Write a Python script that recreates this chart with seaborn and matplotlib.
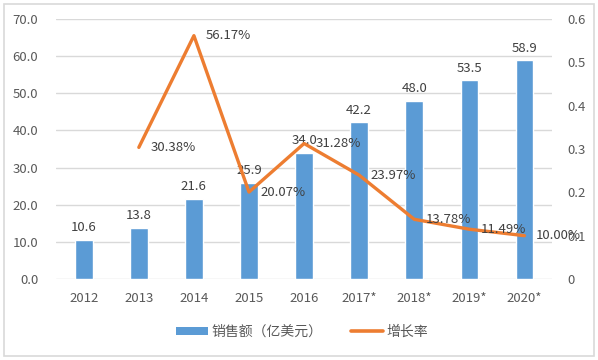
import numpy as np
import pandas as pd
import matplotlib
matplotlib.use("Agg")
import matplotlib.pyplot as plt
import seaborn as sns
from matplotlib.patches import Patch, Rectangle
from matplotlib.lines import Line2D

years = ["2012", "2013", "2014", "2015", "2016", "2017*", "2018*", "2019*", "2020*"]
sales = [10.6, 13.8, 21.6, 25.9, 34.0, 42.2, 48.0, 53.5, 58.9]
growth = [np.nan, 0.3038, 0.5617, 0.2007, 0.3128, 0.2397, 0.1378, 0.1149, 0.1000]
left_ticks = [0, 10, 20, 30, 40, 50, 60, 70]
right_ticks = [0, 0.1, 0.2, 0.3, 0.4, 0.5, 0.6]
legend_labels = ["销售额（亿美元）", "增长率"]

sns.set_theme(style="white")
plt.rcParams['font.family'] = ['Noto Sans CJK SC', 'DejaVu Sans']

BLUE = "#5B9BD5"
ORANGE = "#ED7D31"
TXT = "#595959"
GRID = "#D9D9D9"

df = pd.DataFrame({"year": years, "sales": sales, "growth": growth})
df["pos"] = np.arange(len(df))

fig = plt.figure(figsize=(5.98, 3.6), dpi=100)
ax = fig.add_axes([0.094, 0.225, 0.829, 0.722])
sns.barplot(data=df, x="year", y="sales", color=BLUE, width=0.32, ax=ax,
            saturation=1, zorder=2)
ax.set_xlim(-0.5, len(years) - 0.5)
ax.set_ylim(0, 70)
ax.set_yticks(left_ticks)
ax.set_yticklabels([f"{v:.1f}" for v in left_ticks])
ax.grid(axis="y", color=GRID, linewidth=1, zorder=0)
ax.set_axisbelow(True)
for s in ax.spines.values():
    s.set_visible(False)
ax.set_xlabel("")
ax.set_ylabel("")
ax.tick_params(axis="x", length=0, pad=9, labelsize=9.5, colors=TXT)
ax.tick_params(axis="y", length=0, pad=13, labelsize=9.5, colors=TXT)

for i, v in enumerate(sales):
    ax.text(i, v + 1.5, f"{v:.1f}", ha="center", va="bottom", fontsize=9.5, color="#404040")

ax2 = ax.twinx()
sns.lineplot(data=df, x="pos", y="growth", color=ORANGE, linewidth=2.4, ax=ax2, zorder=3)
ax2.set_ylim(0, 0.6)
ax2.set_yticks(right_ticks)
ax2.set_yticklabels(["0"] + [f"{v:.1f}" for v in right_ticks[1:]])
ax2.set_xlim(-0.5, len(years) - 0.5)
for s in ax2.spines.values():
    s.set_visible(False)
ax2.set_xlabel("")
ax2.set_ylabel("")
ax2.tick_params(axis="y", length=0, pad=11, labelsize=9.5, colors=TXT)
ax2.grid(False)

for i, g in enumerate(growth):
    if not np.isnan(g):
        ax2.text(i + 0.21, g, f"{g*100:.2f}%", ha="left", va="center", fontsize=9.5, color="#404040")

handles = [Patch(facecolor=BLUE, edgecolor="none"),
           Line2D([0], [0], color=ORANGE, linewidth=2.6)]
fig.legend(handles, legend_labels, loc="center", bbox_to_anchor=(0.505, 0.078), ncol=2,
           frameon=False, fontsize=10, handlelength=2.3, handleheight=0.5,
           columnspacing=2.0, handletextpad=0.3, labelcolor=TXT)

fig.patches.append(Rectangle((0.006, 0.012), 0.988, 0.978, transform=fig.transFigure,
                             fill=False, edgecolor=GRID, linewidth=1.2))

fig.savefig("out.png", dpi=100)
